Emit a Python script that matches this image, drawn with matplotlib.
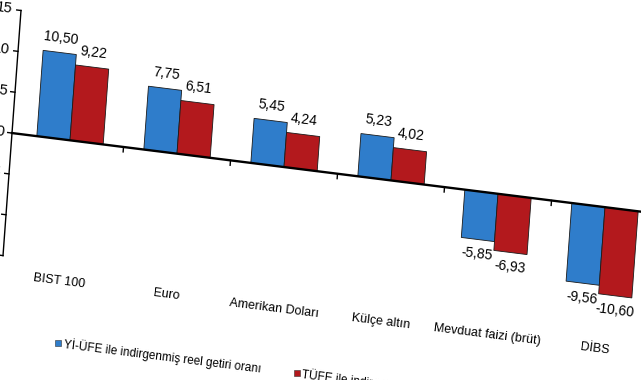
import matplotlib
matplotlib.use("Agg")
import matplotlib.pyplot as plt
from matplotlib.transforms import Affine2D
import numpy as np

# veriler
categories = ["BIST 100", "Euro", "Amerikan Doları", "Külçe altın",
              "Mevduat faizi (brüt)", "DİBS"]
yiufe = [10.50, 7.75, 5.45, 5.23, -5.85, -9.56]
tufe = [9.22, 6.51, 4.24, 4.02, -6.93, -10.60]
yiufe_labels = ["10,50", "7,75", "5,45", "5,23", "-5,85", "-9,56"]
tufe_labels = ["9,22", "6,51", "4,24", "4,02", "-6,93", "-10,60"]
y_ticks = [-15, -10, -5, 0, 5, 10, 15]
legend_names = ["Yİ-ÜFE ile indirgenmiş reel getiri oranı",
                "TÜFE ile indirgenmiş reel getiri oranı"]

blue = "#2f7dcb"
red = "#b3191d"
plt.rcParams["font.family"] = ["Liberation Sans", "DejaVu Sans"]

W, H = 641, 380
fig = plt.figure(figsize=(W / 100, H / 100), dpi=100)
ax = fig.add_axes([0, 0, 1, 1])
ax.set_axis_off()

# düz yerleşim: kategori -> 107 px, birim -> 8.17 px
cx, cy = 107.0, 8.17
x0, y0 = 70.0, 239.7
ax.set_xlim(-x0 / cx, (W - x0) / cx)
ax.set_ylim(-y0 / cy, (H - y0) / cy)

# görüntüdeki eğiklik
skew = Affine2D(np.array([[1, 0.0734, -0.0734 * y0],
                          [-0.125, 1, 0.125 * x0],
                          [0, 0, 1]]))
T = ax.transData + skew
rot = -7.1

x = np.arange(len(categories))
w = 0.31
b1 = ax.bar(x - w / 2, yiufe, w, color=blue, edgecolor="#1a1a1a", linewidth=0.6)
b2 = ax.bar(x + w / 2, tufe, w, color=red, edgecolor="#1a1a1a", linewidth=0.6)
for p in list(b1) + list(b2):
    p.set_transform(T)
    p.set_clip_on(False)

# eksenler
xa = -0.542
ax.plot([xa, xa], [y_ticks[0], y_ticks[-1]], color="black", lw=1.0, transform=T, clip_on=False)
ax.plot([xa, 5.7], [0, 0], color="black", lw=1.7, transform=T, clip_on=False, zorder=3)
for t in y_ticks:
    ax.plot([xa - 0.04, xa], [t, t], color="black", lw=1.0, transform=T, clip_on=False)
    ax.text(xa - 0.075, t, str(t), ha="right", va="center", fontsize=10.5,
            rotation=rot, rotation_mode="anchor", transform=T)
for i in range(len(categories) - 1):
    ax.plot([i + 0.5, i + 0.5], [0, -0.6], color="black", lw=1.0, transform=T, clip_on=False)

# değer etiketleri
for i in range(len(categories)):
    for v, lab, dx in [(yiufe[i], yiufe_labels[i], -w / 2), (tufe[i], tufe_labels[i], w / 2)]:
        off = 1.8 if v > 0 else -1.8
        ax.text(i + dx, v + off, lab, ha="center", va="center", fontsize=10,
                rotation=rot, rotation_mode="anchor", transform=T)

# kategori etiketleri
for i, c in enumerate(categories):
    ax.text(i, -17.3, c, ha="center", va="center", fontsize=9,
            rotation=rot, rotation_mode="anchor", transform=T)

# lejant
for xl, col, name in [(0.03, blue, legend_names[0]), (2.26, red, legend_names[1])]:
    ax.plot([xl], [-24.8], marker="s", markersize=5, color=col,
            markeredgecolor="#333333", markeredgewidth=0.4, transform=T, clip_on=False)
    ax.text(xl + 0.05, -24.8, name, ha="left", va="center", fontsize=8.5,
            rotation=rot, rotation_mode="anchor", transform=T)

fig.savefig("out.png", dpi=100)
